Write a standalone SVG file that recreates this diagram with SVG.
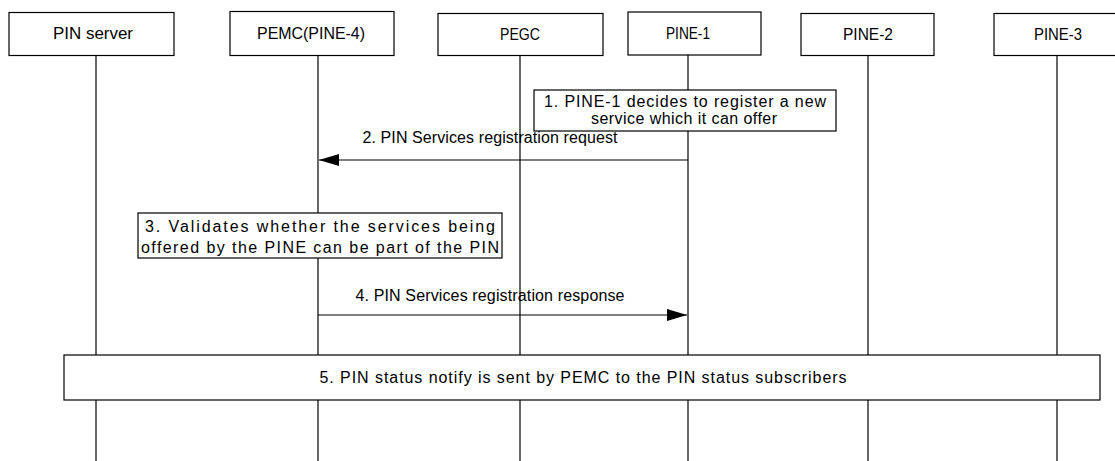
<svg xmlns="http://www.w3.org/2000/svg" width="1115" height="461" viewBox="0 0 1115 461">
<style>
.box{fill:#fff;stroke:#000;stroke-width:1.2}
.life{stroke:#000;stroke-width:1.2;fill:none}
.msg{stroke:#000;stroke-width:1.2;fill:none}
text{font-family:"Liberation Sans",Arial,sans-serif;font-size:16px;fill:#000;text-anchor:middle;dominant-baseline:central}
</style>
<defs>
<marker id="ah" markerWidth="20" markerHeight="12" refX="20" refY="6" orient="auto" markerUnits="userSpaceOnUse">
<path d="M0,0 L20,6 L0,12 Z" fill="#000"/>
</marker>
</defs>
<g id="lifelines">
<line class="life" x1="96" y1="55" x2="96" y2="461"/>
<line class="life" x1="318" y1="55" x2="318" y2="461"/>
<line class="life" x1="520" y1="56" x2="520" y2="461"/>
<line class="life" x1="688" y1="55" x2="688" y2="461"/>
<line class="life" x1="868" y1="56" x2="868" y2="461"/>
<line class="life" x1="1057" y1="55" x2="1057" y2="461"/>
</g>
<g id="n-pinserver"><rect class="box" x="9" y="12.5" width="165" height="43"/><text x="93" y="33" textLength="80" lengthAdjust="spacingAndGlyphs">PIN server</text></g>
<g id="n-pemc"><rect class="box" x="230" y="11.5" width="164" height="44"/><text x="311" y="33" textLength="108" lengthAdjust="spacingAndGlyphs">PEMC(PINE-4)</text></g>
<g id="n-pegc"><rect class="box" x="438" y="13.5" width="165" height="42"/><text x="520" y="34" textLength="40" lengthAdjust="spacingAndGlyphs">PEGC</text></g>
<g id="n-pine1"><rect class="box" x="628" y="12" width="133" height="43"/><text x="688" y="33" textLength="44" lengthAdjust="spacingAndGlyphs">PINE-1</text></g>
<g id="n-pine2"><rect class="box" x="801" y="13.5" width="133" height="42"/><text x="868" y="34" textLength="50" lengthAdjust="spacingAndGlyphs">PINE-2</text></g>
<g id="n-pine3"><rect class="box" x="994" y="13.5" width="130" height="42"/><text x="1058" y="34" textLength="48" lengthAdjust="spacingAndGlyphs">PINE-3</text></g>
<g id="step1"><rect class="box" x="534" y="90" width="302" height="41"/><text x="685" y="101" textLength="282" lengthAdjust="spacing">1. PINE-1 decides to register a new</text><text x="684" y="118" textLength="186" lengthAdjust="spacing">service which it can offer</text></g>
<g id="step3"><rect class="box" x="138" y="213" width="364" height="45"/><text x="320" y="226" textLength="350" lengthAdjust="spacing">3. Validates whether the services being</text><text x="320" y="247" textLength="358" lengthAdjust="spacing">offered by the PINE can be part of the PIN</text></g>
<g id="step5"><rect class="box" x="64" y="355" width="1036" height="45"/><text x="583" y="377" textLength="527" lengthAdjust="spacing">5. PIN status notify is sent by PEMC to the PIN status subscribers</text></g>
<g id="connectors">
<line class="msg" x1="688" y1="160" x2="319" y2="160" marker-end="url(#ah)"/>
<text x="490" y="137" textLength="255" lengthAdjust="spacing">2. PIN Services registration request</text>
<line class="msg" x1="318" y1="315" x2="687" y2="315" marker-end="url(#ah)"/>
<text x="490" y="295" textLength="269" lengthAdjust="spacing">4. PIN Services registration response</text>
</g>
</svg>
